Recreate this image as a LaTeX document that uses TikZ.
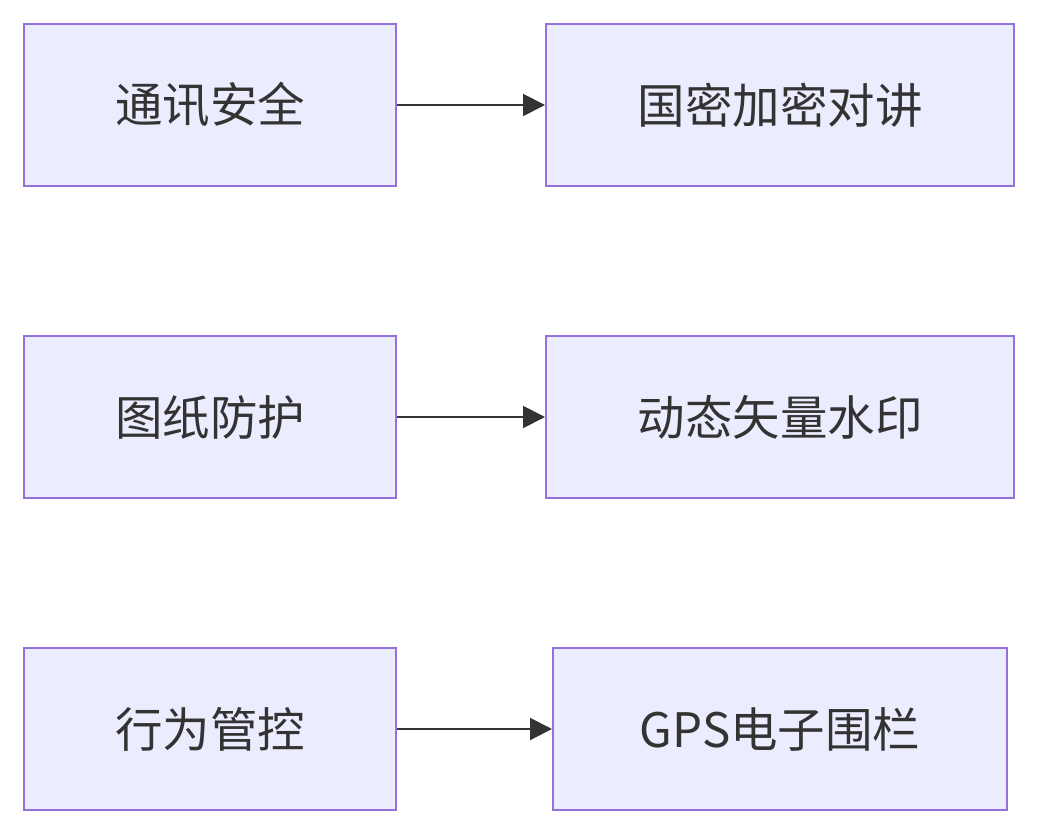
\documentclass[tikz,border=0pt]{standalone}
\usepackage{fontspec}
\newfontfamily\cjk{Noto Sans CJK SC}
\usetikzlibrary{arrows.meta}
\definecolor{boxfill}{HTML}{ECECFF}
\definecolor{boxline}{HTML}{9370DB}
\definecolor{ink}{HTML}{333333}
\tikzset{
  item/.style={draw=boxline, fill=boxfill, line width=2pt, shape=rectangle,
    minimum height=162pt, inner sep=0pt, text=ink,
    font=\cjk\fontsize{47.5}{56}\selectfont},
  link/.style={draw=ink, line width=2pt, -{Triangle[length=22pt,width=22pt]}}
}
\begin{document}
\begin{tikzpicture}[x=1pt, y=-1pt]
\useasboundingbox (0,0) rectangle (1038,834);
% linke Spalte
\node[item, minimum width=372pt] (tongxun) at (210,105) {通讯安全};
\node[item, minimum width=372pt] (tuzhi)   at (210,417) {图纸防护};
\node[item, minimum width=372pt] (xingwei) at (210,729) {行为管控};
% rechte Spalte
\node[item, minimum width=468pt] (duijiang) at (780,105) {国密加密对讲};
\node[item, minimum width=468pt] (shuiyin)  at (780,417) {动态矢量水印};
\node[item, minimum width=454pt] (weilan)   at (780,729) {GPS电子围栏};
% Pfeile
\draw[link] (tongxun) -- (duijiang);
\draw[link] (tuzhi) -- (shuiyin);
\draw[link] (xingwei) -- (weilan);
\end{tikzpicture}
\end{document}
